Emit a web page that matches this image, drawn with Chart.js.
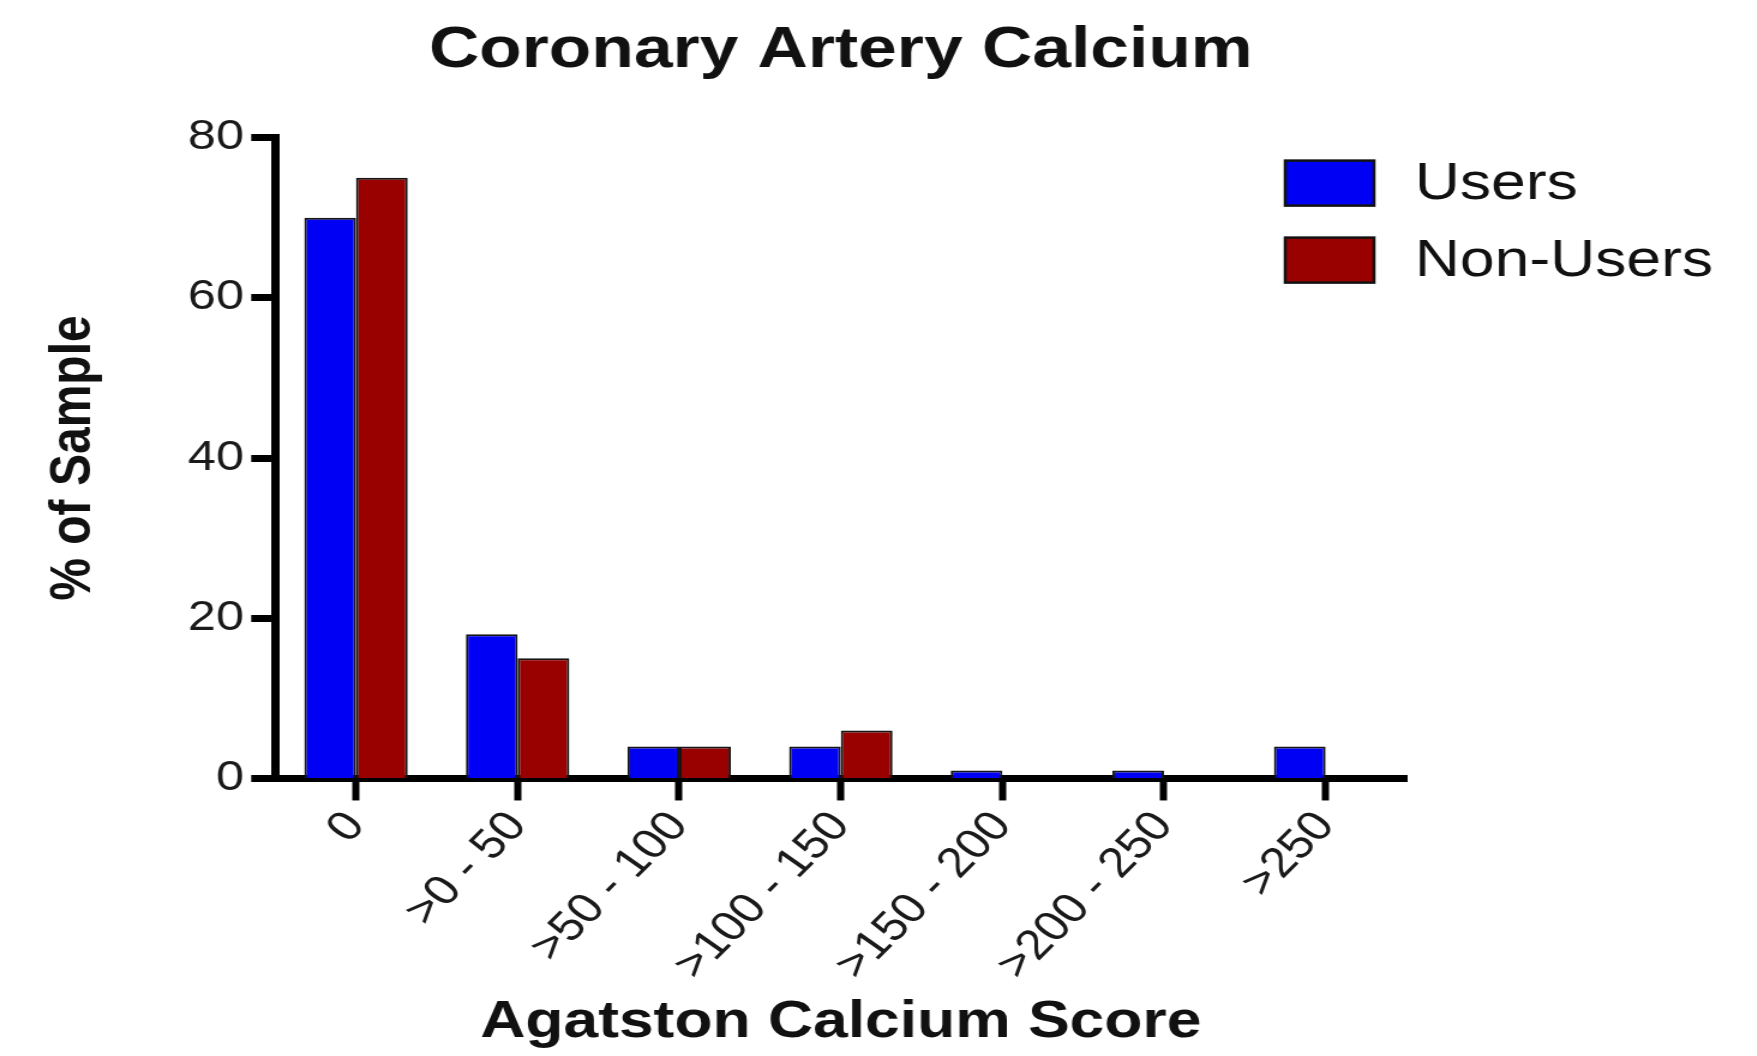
<!DOCTYPE html>
<html>
<head>
<meta charset="utf-8">
<script src="https://cdn.jsdelivr.net/npm/chart.js@4.4.0/dist/chart.umd.min.js"></script>
<style>
  html, body { margin: 0; padding: 0; background: #fff; overflow: hidden; }
  /* the source figure is stretched sideways, so the whole canvas is too */
  #wrap { width: 1464px; height: 1056px; transform: scaleX(1.2); transform-origin: 0 0; }
</style>
</head>
<body>
<div id="wrap"><canvas id="cacChart"></canvas></div>
<script>
const categories = ['0', '>0 - 50', '>50 - 100', '>100 - 150', '>150 - 200', '>200 - 250', '>250'];
const usersPct = [70, 18, 4, 4, 1, 1, 4];
const nonUsersPct = [75, 15, 4, 6, 0, 0, 0];
const yMin = 0;
const yMax = 80;
const yStep = 20;

const FONT = "'Liberation Sans', Arial, Helvetica, sans-serif";

// legend sits inside the top-right corner, overlapping the plot width
const legendBoxes = {
    id: 'legendBoxes',
    afterDraw(chart) {
        const ctx = chart.ctx;
        const area = chart.chartArea;
        const x0 = area.right - 101;
        chart.data.datasets.forEach((ds, i) => {
            const y0 = area.top + 23 + i * 77;
            ctx.save();
            ctx.fillStyle = ds.backgroundColor;
            ctx.fillRect(x0, y0, 74, 45);
            ctx.lineWidth = 2.5;
            ctx.strokeStyle = '#111';
            ctx.strokeRect(x0, y0, 74, 45);
            ctx.fillStyle = '#111';
            ctx.font = `52px ${FONT}`;
            ctx.textBaseline = 'middle';
            ctx.fillText(ds.label, x0 + 108, y0 + 24);
            ctx.restore();
        });
    }
};

const ctx = document.getElementById('cacChart').getContext('2d');
new Chart(ctx, {
    type: 'bar',
    data: {
        labels: categories,
        datasets: [{
            label: 'Users',
            data: usersPct,
            backgroundColor: '#0000f5',
            borderColor: '#151515',
            borderWidth: 2
        }, {
            label: 'Non-Users',
            data: nonUsersPct,
            backgroundColor: '#990000',
            borderColor: '#151515',
            borderWidth: 2
        }]
    },
    options: {
        responsive: true,
        maintainAspectRatio: false,
        animation: false,
        datasets: { bar: { categoryPercentage: 0.64, barPercentage: 1 } },
        layout: { padding: { top: 0, right: 292, bottom: 0, left: 0 } },
        plugins: {
            legend: { display: false },
            tooltip: { enabled: false },
            title: {
                display: true,
                text: 'Coronary Artery Calcium',
                fullSize: false,
                color: '#111',
                font: { family: FONT, size: 58, weight: 'bold' },
                padding: { top: 16, bottom: 52 }
            }
        },
        scales: {
            x: {
                z: 1,
                grid: { offset: false, drawOnChartArea: false, drawTicks: true, tickLength: 22, tickWidth: 6, tickColor: '#000' },
                border: { display: true, color: '#000', width: 7 },
                ticks: {
                    color: '#1a1a1a',
                    font: { family: FONT, size: 42 },
                    minRotation: 50,
                    maxRotation: 50,
                    padding: 2,
                    autoSkip: false
                },
                title: {
                    display: true,
                    text: 'Agatston Calcium Score',
                    color: '#111',
                    font: { family: FONT, size: 52, weight: 'bold' },
                    padding: { top: 0, bottom: 2 }
                }
            },
            y: {
                z: 1,
                min: yMin,
                max: yMax,
                ticks: { stepSize: yStep, color: '#1a1a1a', font: { family: FONT, size: 42 }, padding: 6 },
                grid: { drawOnChartArea: false, drawTicks: true, tickLength: 20, tickWidth: 7, tickColor: '#000' },
                border: { display: true, color: '#000', width: 7 },
                title: {
                    display: true,
                    text: '% of Sample',
                    color: '#111',
                    font: { family: FONT, size: 48, weight: 'bold' },
                    padding: { top: 33, bottom: 60 }
                }
            }
        }
    },
    plugins: [legendBoxes]
});
</script>
</body>
</html>
